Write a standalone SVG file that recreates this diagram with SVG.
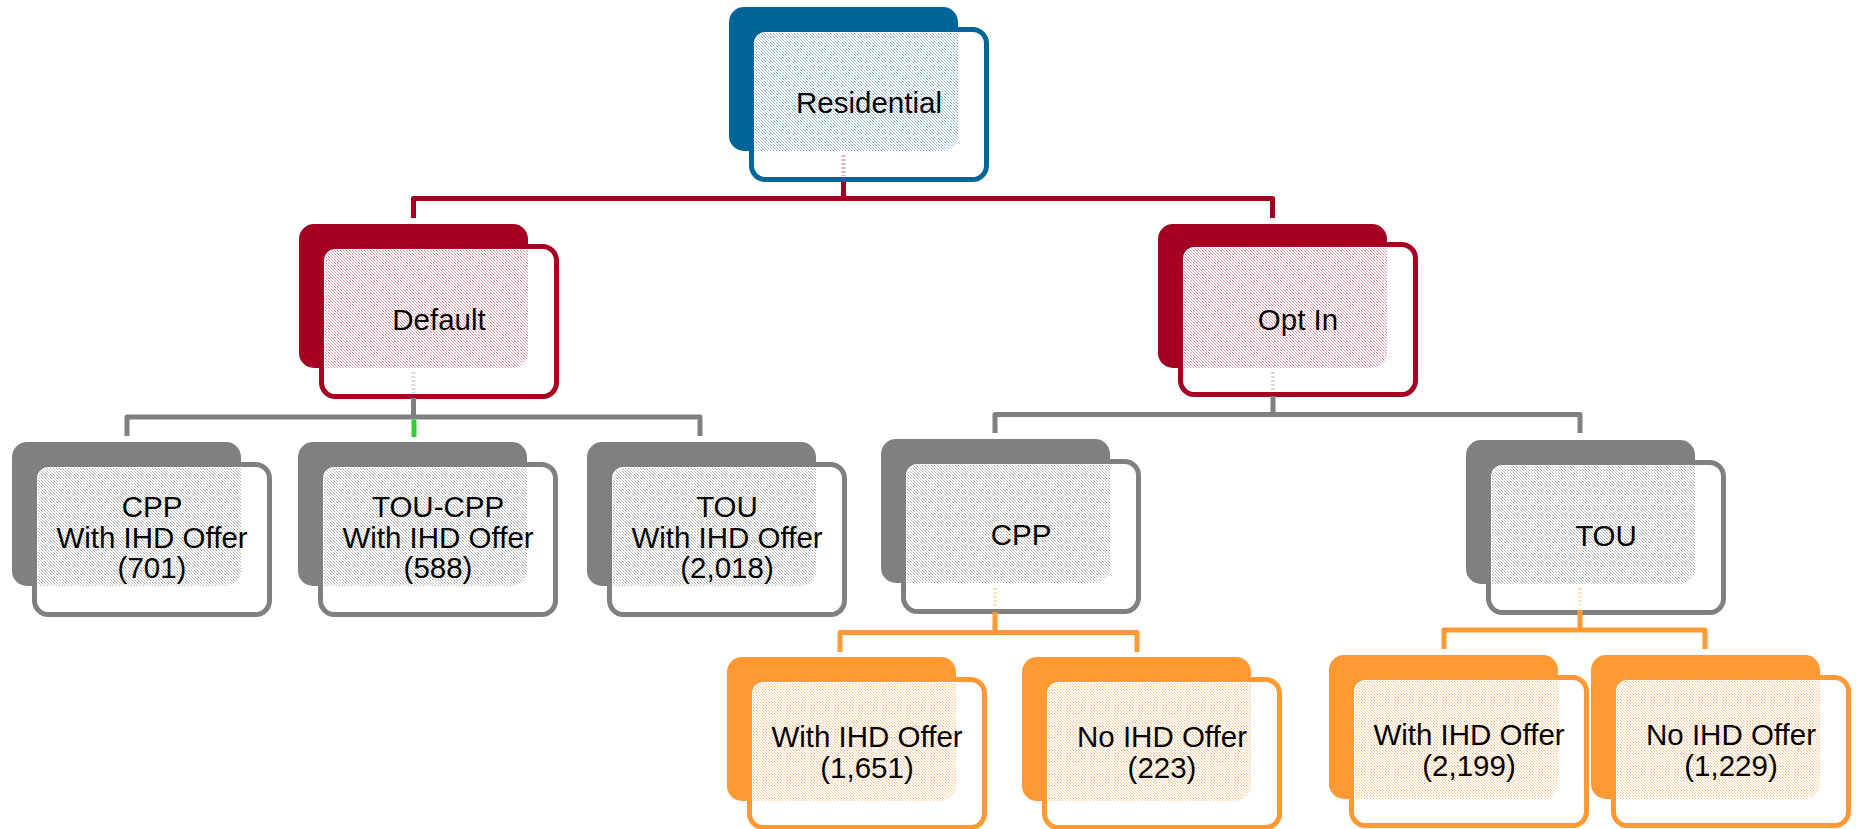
<svg xmlns="http://www.w3.org/2000/svg" width="1856" height="829" viewBox="0 0 1856 829">
<defs>
<pattern id="pb" width="3" height="3" patternUnits="userSpaceOnUse"><rect x="0" y="0" width="1" height="1" fill="#8fb8d3"/><rect x="1" y="1" width="1" height="1" fill="#b8d2e3"/><rect x="2" y="2" width="1" height="1" fill="#8fb8d3"/></pattern>
<pattern id="pr" width="3" height="3" patternUnits="userSpaceOnUse"><rect x="0" y="0" width="1" height="1" fill="#e38fa1"/><rect x="1" y="1" width="1" height="1" fill="#efbcc7"/><rect x="2" y="2" width="1" height="1" fill="#e38fa1"/></pattern>
<pattern id="pg" width="3" height="3" patternUnits="userSpaceOnUse"><rect x="0" y="0" width="1" height="1" fill="#b4b4b4"/><rect x="1" y="1" width="1" height="1" fill="#d4d4d4"/><rect x="2" y="2" width="1" height="1" fill="#b4b4b4"/></pattern>
<pattern id="po" width="3" height="3" patternUnits="userSpaceOnUse"><rect x="0" y="0" width="1" height="1" fill="#fcc38f"/><rect x="1" y="1" width="1" height="1" fill="#fddcbd"/><rect x="2" y="2" width="1" height="1" fill="#fcc38f"/></pattern>
</defs>
<style>
.back{stroke:none}
.front{fill:#ffffff;stroke-width:5}
.blue .back{fill:#006699}.blue .front{stroke:#006699}.blue .pat{fill:url(#pb)}
.red .back{fill:#A50021}.red .front{stroke:#A50021}.red .pat{fill:url(#pr)}
.gray .back{fill:#808080}.gray .front{stroke:#808080}.gray .pat{fill:url(#pg)}
.orange .back{fill:#FF9933}.orange .front{stroke:#FF9933}.orange .pat{fill:url(#po)}
text{font-family:"Liberation Sans",Arial,sans-serif;font-size:29.5px;fill:#000;text-anchor:middle}
.c{fill:none;stroke-width:5;stroke-linejoin:round}
.cr{stroke:#A50021}.cg{stroke:#808080}.co{stroke:#FF9933}.cgr{stroke:#33CC33}
.stub{fill:none;stroke-width:4;stroke-dasharray:2 2;opacity:0.3}
</style>

<g id="node-residential" class="blue" transform="translate(729,7)">
<rect class="back" x="0" y="0" width="229" height="144" rx="15"/>
<rect class="front" x="22.5" y="22.5" width="235" height="150" rx="14"/>
<path class="pat" d="M37,26 H229 V129 A15,15 0 0 1 214,144 H26 V37 A11,11 0 0 1 37,26 Z"/>
<text x="140" y="106">Residential</text>
</g>

<g id="node-default" class="red" transform="translate(299,224)">
<rect class="back" x="0" y="0" width="229" height="144" rx="15"/>
<rect class="front" x="22.5" y="22.5" width="235" height="150" rx="14"/>
<path class="pat" d="M37,26 H229 V129 A15,15 0 0 1 214,144 H26 V37 A11,11 0 0 1 37,26 Z"/>
<text x="140" y="105.5">Default</text>
</g>

<g id="node-optin" class="red" transform="translate(1158,224)">
<rect class="back" x="0" y="0" width="229" height="144" rx="15"/>
<rect class="front" x="22.5" y="20.5" width="235" height="150" rx="14"/>
<path class="pat" d="M37,24 H229 V129 A15,15 0 0 1 214,144 H26 V35 A11,11 0 0 1 37,24 Z"/>
<text x="140" y="105.5">Opt In</text>
</g>

<g id="node-cpp-ihd" class="gray" transform="translate(12,442)">
<rect class="back" x="0" y="0" width="229" height="144" rx="15"/>
<rect class="front" x="22.5" y="22.5" width="235" height="150" rx="14"/>
<path class="pat" d="M37,26 H229 V129 A15,15 0 0 1 214,144 H26 V37 A11,11 0 0 1 37,26 Z"/>
<text x="140" y="75">CPP</text>
<text x="140" y="105.5">With IHD Offer</text>
<text x="140" y="136">(701)</text>
</g>

<g id="node-toucpp-ihd" class="gray" transform="translate(298,442)">
<rect class="back" x="0" y="0" width="229" height="144" rx="15"/>
<rect class="front" x="22.5" y="22.5" width="235" height="150" rx="14"/>
<path class="pat" d="M37,26 H229 V129 A15,15 0 0 1 214,144 H26 V37 A11,11 0 0 1 37,26 Z"/>
<text x="140" y="75">TOU-CPP</text>
<text x="140" y="105.5">With IHD Offer</text>
<text x="140" y="136">(588)</text>
</g>

<g id="node-tou-ihd" class="gray" transform="translate(587,442)">
<rect class="back" x="0" y="0" width="229" height="144" rx="15"/>
<rect class="front" x="22.5" y="22.5" width="235" height="150" rx="14"/>
<path class="pat" d="M37,26 H229 V129 A15,15 0 0 1 214,144 H26 V37 A11,11 0 0 1 37,26 Z"/>
<text x="140" y="75">TOU</text>
<text x="140" y="105.5">With IHD Offer</text>
<text x="140" y="136">(2,018)</text>
</g>

<g id="node-cpp" class="gray" transform="translate(881,439)">
<rect class="back" x="0" y="0" width="229" height="144" rx="15"/>
<rect class="front" x="22.5" y="22.5" width="235" height="150" rx="14"/>
<path class="pat" d="M37,26 H229 V129 A15,15 0 0 1 214,144 H26 V37 A11,11 0 0 1 37,26 Z"/>
<text x="140" y="105.5">CPP</text>
</g>

<g id="node-tou" class="gray" transform="translate(1466,440)">
<rect class="back" x="0" y="0" width="229" height="144" rx="15"/>
<rect class="front" x="22.5" y="22.5" width="235" height="150" rx="14"/>
<path class="pat" d="M37,26 H229 V129 A15,15 0 0 1 214,144 H26 V37 A11,11 0 0 1 37,26 Z"/>
<text x="140" y="105.5">TOU</text>
</g>

<g id="node-cpp-with-ihd" class="orange" transform="translate(727,657)">
<rect class="back" x="0" y="0" width="229" height="144" rx="15"/>
<rect class="front" x="22.5" y="22.5" width="235" height="148" rx="14"/>
<path class="pat" d="M37,26 H229 V129 A15,15 0 0 1 214,144 H26 V37 A11,11 0 0 1 37,26 Z"/>
<text x="140" y="90">With IHD Offer</text>
<text x="140" y="121">(1,651)</text>
</g>

<g id="node-cpp-no-ihd" class="orange" transform="translate(1022,657)">
<rect class="back" x="0" y="0" width="229" height="144" rx="15"/>
<rect class="front" x="22.5" y="22.5" width="235" height="148" rx="14"/>
<path class="pat" d="M37,26 H229 V129 A15,15 0 0 1 214,144 H26 V37 A11,11 0 0 1 37,26 Z"/>
<text x="140" y="90">No IHD Offer</text>
<text x="140" y="121">(223)</text>
</g>

<g id="node-tou-with-ihd" class="orange" transform="translate(1329,655)">
<rect class="back" x="0" y="0" width="229" height="144" rx="15"/>
<rect class="front" x="22.5" y="22.5" width="235" height="148" rx="14"/>
<path class="pat" d="M37,26 H229 V129 A15,15 0 0 1 214,144 H26 V37 A11,11 0 0 1 37,26 Z"/>
<text x="140" y="90">With IHD Offer</text>
<text x="140" y="121">(2,199)</text>
</g>

<g id="node-tou-no-ihd" class="orange" transform="translate(1591,655)">
<rect class="back" x="0" y="0" width="229" height="144" rx="15"/>
<rect class="front" x="22.5" y="22.5" width="235" height="148" rx="14"/>
<path class="pat" d="M37,26 H229 V129 A15,15 0 0 1 214,144 H26 V37 A11,11 0 0 1 37,26 Z"/>
<text x="140" y="90">No IHD Offer</text>
<text x="140" y="121">(1,229)</text>
</g>

<g id="connectors">
<path class="c cr" d="M843.5,182 V198.5 M413.5,218 V198.5 H1272.5 V218"/>
<path class="c cg" d="M413.5,398 V417 M127,436 V417 H700 V436"/>
<path class="c cgr" d="M414,419.5 V437"/>
<path class="c cg" d="M1273,396 V414.5 M995,433 V414.5 H1580 V433"/>
<path class="c co" d="M995,612 V632.5 M840,652 V632.5 H1137 V652"/>
<path class="c co" d="M1580,610 V630 M1444,649 V630 H1705 V649"/>
<path class="stub cr" d="M843.5,155 V176"/>
<path class="stub cg" d="M413.5,372 V393"/>
<path class="stub cg" d="M1273,372 V391"/>
<path class="stub co" d="M995,588 V607"/>
<path class="stub co" d="M1580,588 V605"/>
</g>
</svg>
